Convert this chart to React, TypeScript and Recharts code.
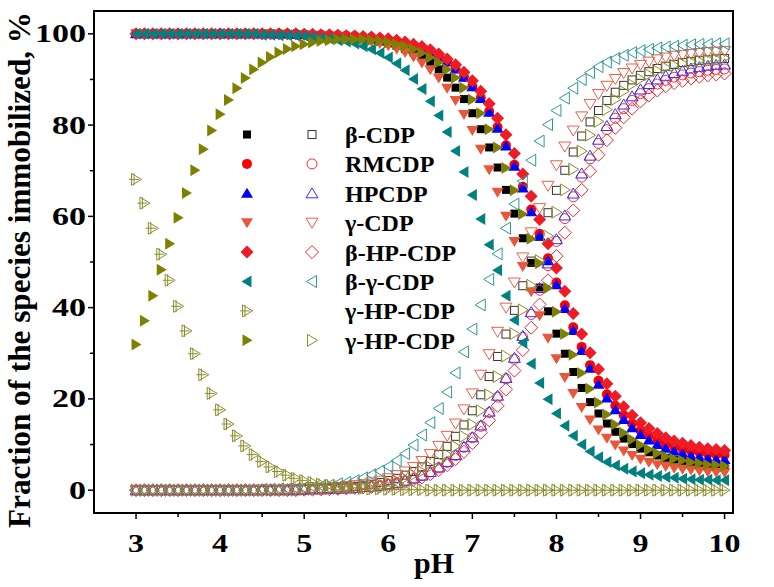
import React from 'react';
import { ScatterChart, Scatter, XAxis, YAxis, ReferenceArea } from 'recharts';

// pH grid
const PH = [3.0, 3.1, 3.2, 3.3, 3.4, 3.5, 3.6, 3.7, 3.8, 3.9, 4.0, 4.1, 4.2, 4.3, 4.4, 4.5, 4.6, 4.7, 4.8, 4.9,
  5.0, 5.1, 5.2, 5.3, 5.4, 5.5, 5.6, 5.7, 5.8, 5.9, 6.0, 6.1, 6.2, 6.3, 6.4, 6.5, 6.6, 6.7, 6.8, 6.9,
  7.0, 7.1, 7.2, 7.3, 7.4, 7.5, 7.6, 7.7, 7.8, 7.9, 8.0, 8.1, 8.2, 8.3, 8.4, 8.5, 8.6, 8.7, 8.8, 8.9,
  9.0, 9.1, 9.2, 9.3, 9.4, 9.5, 9.6, 9.7, 9.8, 9.9, 10.0];

const X_TICKS = [3, 3.5, 4, 4.5, 5, 5.5, 6, 6.5, 7, 7.5, 8, 8.5, 9, 9.5, 10];
const Y_TICKS = [0, 10, 20, 30, 40, 50, 60, 70, 80, 90, 100];

// beta-CDP
const bCdpFilled = [100, 100, 100, 100, 100, 100, 100, 100, 100, 100, 100, 100, 100, 100, 100, 100, 100, 99.9, 99.9, 99.8,
  99.8, 99.7, 99.7, 99.6, 99.5, 99.3, 99.2, 98.9, 98.7, 98.3,
  97.9, 97.4, 96.7, 95.9, 94.9, 93.7, 92.2, 90.4, 88.2, 85.7,
  82.6, 79.1, 75.1, 70.7, 65.8, 60.6, 55.2, 49.8, 44.4, 39.2,
  34.3, 29.9, 25.9, 22.4, 19.3, 16.8, 14.6, 12.8, 11.3, 10.1,
  9.1, 8.3, 7.6, 7.1, 6.7, 6.3, 6.1, 5.8, 5.7, 5.5, 5.4];
const bCdpOpen = [0, 0, 0, 0, 0, 0, 0, 0, 0, 0, 0, 0, 0, 0, 0, 0, 0, 0.1, 0.1, 0.2,
  0.2, 0.3, 0.3, 0.4, 0.5, 0.7, 0.8, 1.1, 1.3, 1.7,
  2.1, 2.6, 3.3, 4.1, 5.1, 6.3, 7.8, 9.6, 11.8, 14.3,
  17.4, 20.9, 24.9, 29.3, 34.2, 39.4, 44.8, 50.2, 55.6, 60.8,
  65.7, 70.1, 74.1, 77.6, 80.7, 83.2, 85.4, 87.2, 88.7, 89.9,
  90.9, 91.7, 92.4, 92.9, 93.3, 93.7, 93.9, 94.2, 94.3, 94.5, 94.6];

// RMCDP
const rmFilled = [100, 100, 100, 100, 100, 100, 100, 100, 100, 100, 100, 100, 100, 100, 100, 100, 100, 100, 100, 100,
  99.9, 99.8, 99.8, 99.7, 99.7, 99.6, 99.5, 99.3, 99.2, 99.0,
  98.7, 98.4, 98.0, 97.5, 96.8, 96.0, 95.1, 93.9, 92.4, 90.6,
  88.5, 86.0, 83.0, 79.6, 75.6, 71.3, 66.5, 61.5, 56.2, 50.8,
  45.5, 40.5, 35.7, 31.4, 27.4, 24.0, 21.0, 18.5, 16.4, 14.6,
  13.1, 12.0, 11.0, 10.2, 9.5, 9.0, 8.6, 8.3, 8.0, 7.8, 7.7];
const rmOpen = [0, 0, 0, 0, 0, 0, 0, 0, 0, 0, 0, 0, 0, 0, 0, 0, 0, 0, 0, 0,
  0.1, 0.2, 0.2, 0.3, 0.3, 0.4, 0.5, 0.7, 0.8, 1.0,
  1.3, 1.6, 2.0, 2.5, 3.2, 4.0, 4.9, 6.1, 7.6, 9.4,
  11.5, 14.0, 17.0, 20.4, 24.4, 28.7, 33.5, 38.5, 43.8, 49.2,
  54.5, 59.5, 64.3, 68.6, 72.6, 76.0, 79.0, 81.5, 83.6, 85.4,
  86.9, 88.0, 89.0, 89.8, 90.5, 91.0, 91.4, 91.7, 92.0, 92.2, 92.3];

// HPCDP
const hpFilled = [100, 100, 100, 100, 100, 100, 100, 100, 100, 100, 100, 100, 100, 100, 100, 100, 100, 100, 100, 100,
  99.9, 99.8, 99.8, 99.7, 99.7, 99.6, 99.5, 99.3, 99.2, 99.0,
  98.7, 98.4, 97.9, 97.4, 96.8, 96.0, 95.0, 93.8, 92.3, 90.5,
  88.4, 85.8, 82.8, 79.3, 75.4, 71.0, 66.2, 61.0, 55.7, 50.3,
  45.0, 39.8, 35.0, 30.6, 26.7, 23.2, 20.2, 17.6, 15.5, 13.7,
  12.2, 11.0, 10.0, 9.2, 8.6, 8.1, 7.6, 7.3, 7.0, 6.8, 6.7];
const hpOpen = [0, 0, 0, 0, 0, 0, 0, 0, 0, 0, 0, 0, 0, 0, 0, 0, 0, 0, 0, 0,
  0.1, 0.2, 0.2, 0.3, 0.3, 0.4, 0.5, 0.7, 0.8, 1.0,
  1.3, 1.6, 2.1, 2.6, 3.2, 4.0, 5.0, 6.2, 7.7, 9.5,
  11.6, 14.2, 17.2, 20.7, 24.6, 29.0, 33.8, 39.0, 44.3, 49.7,
  55.0, 60.2, 65.0, 69.4, 73.3, 76.8, 79.8, 82.4, 84.5, 86.3,
  87.8, 89.0, 90.0, 90.8, 91.4, 91.9, 92.4, 92.7, 93.0, 93.2, 93.3];

// gamma-CDP
const gCdpFilled = [100, 100, 100, 100, 100, 100, 100, 100, 100, 100, 100, 100, 100, 100, 100, 99.9, 99.9, 99.9, 99.8, 99.8,
  99.7, 99.7, 99.6, 99.5, 99.3, 99.1, 98.9, 98.7, 98.3, 97.9,
  97.4, 96.7, 95.9, 94.9, 93.6, 92.1, 90.3, 88.1, 85.4, 82.3,
  78.8, 74.7, 70.2, 65.3, 60.0, 54.5, 49.0, 43.5, 38.2, 33.3,
  28.8, 24.7, 21.2, 18.1, 15.4, 13.2, 11.4, 9.9, 8.6, 7.6,
  6.8, 6.1, 5.6, 5.2, 4.8, 4.6, 4.4, 4.2, 4.0, 3.9, 3.8];
const gCdpOpen = [0, 0, 0, 0, 0, 0, 0, 0, 0, 0, 0, 0, 0, 0, 0, 0.1, 0.1, 0.1, 0.2, 0.2,
  0.3, 0.3, 0.4, 0.5, 0.7, 0.9, 1.1, 1.3, 1.7, 2.1,
  2.6, 3.3, 4.1, 5.1, 6.4, 7.9, 9.7, 11.9, 14.6, 17.7,
  21.2, 25.3, 29.8, 34.7, 40.0, 45.5, 51.0, 56.5, 61.8, 66.7,
  71.2, 75.3, 78.8, 81.9, 84.6, 86.8, 88.6, 90.1, 91.4, 92.4,
  93.2, 93.9, 94.4, 94.8, 95.2, 95.4, 95.6, 95.8, 96.0, 96.1, 96.2];

// beta-HP-CDP
const bHpFilled = [100, 100, 100, 100, 100, 100, 100, 100, 100, 100, 100, 100, 100, 100, 100, 100, 100, 100, 100, 100,
  99.9, 99.9, 99.8, 99.8, 99.7, 99.6, 99.5, 99.4, 99.3, 99.1,
  98.9, 98.6, 98.2, 97.7, 97.2, 96.5, 95.6, 94.5, 93.2, 91.6,
  89.7, 87.4, 84.7, 81.5, 77.9, 73.8, 69.3, 64.4, 59.3, 54.0,
  48.7, 43.6, 38.7, 34.2, 30.1, 26.5, 23.3, 20.6, 18.3, 16.4,
  14.8, 13.5, 12.4, 11.5, 10.8, 10.3, 9.8, 9.4, 9.1, 8.9, 8.7];
const bHpOpen = [0, 0, 0, 0, 0, 0, 0, 0, 0, 0, 0, 0, 0, 0, 0, 0, 0, 0, 0, 0,
  0.1, 0.1, 0.2, 0.2, 0.3, 0.4, 0.5, 0.6, 0.7, 0.9,
  1.1, 1.4, 1.8, 2.3, 2.8, 3.5, 4.4, 5.5, 6.8, 8.4,
  10.3, 12.6, 15.3, 18.5, 22.1, 26.2, 30.7, 35.6, 40.7, 46.0,
  51.3, 56.4, 61.3, 65.8, 69.9, 73.5, 76.7, 79.4, 81.7, 83.6,
  85.2, 86.5, 87.6, 88.5, 89.2, 89.7, 90.2, 90.6, 90.9, 91.1, 91.3];

// beta-gamma-CDP
const bgFilled = [100, 100, 100, 100, 100, 100, 100, 100, 100, 100, 100, 100, 100, 100, 100, 99.8, 99.8, 99.7, 99.7, 99.6,
  99.5, 99.3, 99.1, 98.9, 98.6, 98.3, 97.9, 97.3, 96.6, 95.8,
  94.8, 93.5, 92.0, 90.1, 87.9, 85.2, 82.1, 78.5, 74.3, 69.7,
  64.7, 59.4, 53.8, 48.2, 42.6, 37.3, 32.3, 27.7, 23.5, 19.9,
  16.8, 14.1, 11.9, 10.0, 8.5, 7.2, 6.2, 5.4, 4.7, 4.1,
  3.7, 3.4, 3.1, 2.9, 2.7, 2.5, 2.4, 2.3, 2.3, 2.2, 2.2];
const bgOpen = [0, 0, 0, 0, 0, 0, 0, 0, 0, 0, 0, 0, 0, 0, 0, 0.2, 0.2, 0.3, 0.3, 0.4,
  0.5, 0.7, 0.9, 1.1, 1.4, 1.7, 2.1, 2.7, 3.4, 4.2,
  5.2, 6.5, 8.0, 9.9, 12.1, 14.8, 17.9, 21.5, 25.7, 30.3,
  35.3, 40.6, 46.2, 51.8, 57.4, 62.7, 67.7, 72.3, 76.5, 80.1,
  83.2, 85.9, 88.1, 90.0, 91.5, 92.8, 93.8, 94.6, 95.3, 95.9,
  96.3, 96.6, 96.9, 97.1, 97.3, 97.5, 97.6, 97.7, 97.7, 97.8, 97.8];

// gamma-HP-CDP (three species)
const gHpCross = [68.1, 62.9, 57.4, 51.7, 46.0, 40.3, 34.9, 29.9, 25.3, 21.2,
  17.6, 14.5, 11.9, 9.7, 7.8, 6.3, 5.1, 4.1, 3.3, 2.6,
  2.1, 1.7, 1.3, 1.1, 0.8, 0.7, 0.5, 0.4, 0.3, 0.3,
  0.2, 0.2, 0.1, 0.1, 0.1, 0, 0, 0, 0, 0,
  0, 0, 0, 0, 0, 0, 0, 0, 0, 0,
  0, 0, 0, 0, 0, 0, 0, 0, 0, 0,
  0, 0, 0, 0, 0, 0, 0, 0, 0, 0, 0];
const gHpFilled = [31.9, 37.1, 42.6, 48.3, 54.0, 59.7, 65.1, 70.1, 74.7, 78.8,
  82.4, 85.5, 88.1, 90.3, 92.2, 93.7, 94.9, 95.9, 96.7, 97.3,
  97.7, 98.1, 98.4, 98.6, 98.8, 98.8, 98.8, 98.8, 98.6, 98.4,
  98.1, 97.7, 97.3, 96.6, 95.8, 94.8, 93.7, 92.2, 90.4, 88.2,
  85.6, 82.6, 79.1, 75.1, 70.6, 65.7, 60.5, 55.1, 49.7, 44.3,
  39.1, 34.2, 29.7, 25.7, 22.2, 19.2, 16.6, 14.4, 12.6, 11.1,
  9.9, 8.9, 8.1, 7.4, 6.9, 6.5, 6.1, 5.9, 5.6, 5.5, 5.3];
const gHpOpen = [0, 0, 0, 0, 0, 0, 0, 0, 0, 0, 0, 0, 0, 0, 0, 0, 0, 0, 0, 0,
  0.2, 0.2, 0.3, 0.3, 0.4, 0.5, 0.7, 0.8, 1.1, 1.3,
  1.7, 2.1, 2.6, 3.3, 4.1, 5.1, 6.3, 7.8, 9.6, 11.8,
  14.4, 17.4, 20.9, 24.9, 29.4, 34.3, 39.5, 44.9, 50.3, 55.7,
  60.9, 65.8, 70.3, 74.3, 77.8, 80.8, 83.4, 85.6, 87.4, 88.9,
  90.1, 91.1, 91.9, 92.6, 93.1, 93.5, 93.9, 94.1, 94.4, 94.5, 94.7];

type Kind = 'square' | 'circle' | 'up' | 'down' | 'diamond' | 'left' | 'right' | 'cross';

interface SeriesDef {
  key: string;
  values: number[];
  kind: Kind;
  color: string;
  filled: boolean;
}

const SERIES: SeriesDef[] = [
  { key: 'bCdpF', values: bCdpFilled, kind: 'square', color: '#000000', filled: true },
  { key: 'bCdpO', values: bCdpOpen, kind: 'square', color: '#333333', filled: false },
  { key: 'rmF', values: rmFilled, kind: 'circle', color: '#ff0000', filled: true },
  { key: 'rmO', values: rmOpen, kind: 'circle', color: '#ff2a2a', filled: false },
  { key: 'hpF', values: hpFilled, kind: 'up', color: '#0000ff', filled: true },
  { key: 'hpO', values: hpOpen, kind: 'up', color: '#3030ff', filled: false },
  { key: 'gCdpF', values: gCdpFilled, kind: 'down', color: '#e8573a', filled: true },
  { key: 'gCdpO', values: gCdpOpen, kind: 'down', color: '#ec5e4a', filled: false },
  { key: 'bHpF', values: bHpFilled, kind: 'diamond', color: '#ee1c25', filled: true },
  { key: 'bHpO', values: bHpOpen, kind: 'diamond', color: '#ee2a30', filled: false },
  { key: 'bgF', values: bgFilled, kind: 'left', color: '#008080', filled: true },
  { key: 'bgO', values: bgOpen, kind: 'left', color: '#2f9898', filled: false },
  { key: 'gHpC', values: gHpCross, kind: 'cross', color: '#8c8c2a', filled: false },
  { key: 'gHpF', values: gHpFilled, kind: 'right', color: '#808000', filled: true },
  { key: 'gHpO', values: gHpOpen, kind: 'right', color: '#8c8c2a', filled: false },
];

const LEGEND_ROWS = [
  { label: 'β-CDP', left: 0, right: 1 },
  { label: 'RMCDP', left: 2, right: 3 },
  { label: 'HPCDP', left: 4, right: 5 },
  { label: 'γ-CDP', left: 6, right: 7 },
  { label: 'β-HP-CDP', left: 8, right: 9 },
  { label: 'β-γ-CDP', left: 10, right: 11 },
  { label: 'γ-HP-CDP', left: 12, right: -1 },
  { label: 'γ-HP-CDP', left: 13, right: 14 },
];

const FONT_STYLE = { fontFamily: 'Liberation Serif, Times New Roman, serif', fontWeight: 700 };

const Marker = ({ cx, cy, kind, color, filled }: { cx: number; cy: number; kind: Kind; color: string; filled: boolean }) => {
  const fill = filled ? color : 'none';
  const stroke = filled ? 'none' : color;
  const sw = 1;
  switch (kind) {
    case 'square':
      return <rect x={cx - 4} y={cy - 4} width={8} height={8} fill={fill} stroke={stroke} strokeWidth={sw} />;
    case 'circle':
      return <circle cx={cx} cy={cy} r={5} fill={fill} stroke={stroke} strokeWidth={sw} />;
    case 'up':
      return <polygon points={`${cx},${cy - 5.5} ${cx + 6},${cy + 4.5} ${cx - 6},${cy + 4.5}`} fill={fill} stroke={stroke} strokeWidth={sw} />;
    case 'down':
      return <polygon points={`${cx - 6},${cy - 4.5} ${cx + 6},${cy - 4.5} ${cx},${cy + 5.5}`} fill={fill} stroke={stroke} strokeWidth={sw} />;
    case 'diamond':
      return <polygon points={`${cx},${cy - 6.5} ${cx + 6.5},${cy} ${cx},${cy + 6.5} ${cx - 6.5},${cy}`} fill={fill} stroke={stroke} strokeWidth={sw} />;
    case 'left':
      return <polygon points={`${cx - 5.5},${cy} ${cx + 4.5},${cy - 6} ${cx + 4.5},${cy + 6}`} fill={fill} stroke={stroke} strokeWidth={sw} />;
    case 'right':
      return <polygon points={`${cx + 5.5},${cy} ${cx - 4.5},${cy - 6} ${cx - 4.5},${cy + 6}`} fill={fill} stroke={stroke} strokeWidth={sw} />;
    case 'cross':
      return (
        <g fill="none" stroke={color} strokeWidth={sw}>
          <polygon points={`${cx + 5.5},${cy} ${cx - 4.5},${cy - 6} ${cx - 4.5},${cy + 6}`} />
          <line x1={cx - 7} y1={cy} x2={cx + 3} y2={cy} />
          <line x1={cx - 2} y1={cy - 6} x2={cx - 2} y2={cy + 6} />
        </g>
      );
  }
  return null;
};

const isMajor = (v: number) => Math.abs(v - Math.round(v)) < 1e-6;

const XTick = (props: any) => {
  const { x, y, payload } = props;
  const v = payload.value;
  const major = isMajor(v);
  const label = String(v);
  return (
    <g>
      <line x1={x} y1={y} x2={x} y2={y + (major ? 6 : 4)} stroke="#000" strokeWidth={1.5} />
      {major && (
        <text x={x} y={y + 39} textAnchor="middle" style={{ ...FONT_STYLE, fontSize: 26 }}
          textLength={label.length * 16} lengthAdjust="spacingAndGlyphs" fill="#000">
          {label}
        </text>
      )}
    </g>
  );
};

const YTick = (props: any) => {
  const { x, y, payload } = props;
  const v = payload.value;
  const major = v % 20 === 0;
  const label = String(v);
  return (
    <g>
      <line x1={x - (major ? 6 : 4)} y1={y} x2={x} y2={y} stroke="#000" strokeWidth={1.5} />
      {major && (
        <text x={x - 8} y={y + 8.5} textAnchor="end" style={{ ...FONT_STYLE, fontSize: 26 }}
          textLength={label.length * 17} lengthAdjust="spacingAndGlyphs" fill="#000">
          {label}
        </text>
      )}
    </g>
  );
};

const Legend = () => (
  <svg width={774} height={587} style={{ position: 'absolute', left: 0, top: 0, pointerEvents: 'none' }}>
    {LEGEND_ROWS.map((row, i) => {
      const cy = 134.5 + i * 29.4;
      const a = SERIES[row.left];
      const b = row.right >= 0 ? SERIES[row.right] : null;
      return (
        <g key={i}>
          <Marker cx={247} cy={cy} kind={a.kind} color={a.color} filled={a.filled} />
          {b && <Marker cx={312} cy={cy} kind={b.kind} color={b.color} filled={b.filled} />}
          <text x={345} y={cy + 8.5} style={{ ...FONT_STYLE, fontSize: 24 }} fill="#000">
            {row.label}
          </text>
        </g>
      );
    })}
  </svg>
);

export default function App() {
  return (
    <div style={{ position: 'absolute', left: 0, top: 0, width: 774, height: 587, background: '#fff' }}>
      <ScatterChart width={774} height={587} margin={{ top: 11, right: 41, bottom: 0, left: 0 }}>
        <XAxis
          type="number"
          dataKey="x"
          domain={[2.5, 10.1]}
          ticks={X_TICKS}
          interval={0}
          allowDataOverflow
          height={74}
          tickSize={0}
          tickMargin={0}
          tickLine={false}
          axisLine={{ stroke: '#000', strokeWidth: 2 }}
          tick={(p: any) => <XTick {...p} />}
          label={{
            content: () => (
              <text x={434} y={573} textAnchor="middle" style={{ ...FONT_STYLE, fontSize: 30 }} fill="#000">
                pH
              </text>
            ),
          }}
        />
        <YAxis
          type="number"
          dataKey="y"
          domain={[-5, 105]}
          ticks={Y_TICKS}
          interval={0}
          allowDataOverflow
          width={94}
          tickSize={0}
          tickMargin={0}
          tickLine={false}
          axisLine={{ stroke: '#000', strokeWidth: 2 }}
          tick={(p: any) => <YTick {...p} />}
          label={{
            content: () => (
              <text x={30} y={270} transform="rotate(-90 30 270)" textAnchor="middle"
                style={{ ...FONT_STYLE, fontSize: 31 }} textLength={516} lengthAdjust="spacingAndGlyphs" fill="#000">
                Fraction of the species immobilized, %
              </text>
            ),
          }}
        />
        <ReferenceArea x1={2.5} x2={10.1} y1={-5} y2={105} fill="none" stroke="#000" strokeWidth={2} ifOverflow="visible" />
        {SERIES.map((s) => (
          <Scatter
            key={s.key}
            name={s.key}
            data={PH.map((x, i) => ({ x, y: s.values[i] }))}
            isAnimationActive={false}
            shape={(p: any) => <Marker cx={p.cx} cy={p.cy} kind={s.kind} color={s.color} filled={s.filled} />}
          />
        ))}
      </ScatterChart>
      <Legend />
    </div>
  );
}
